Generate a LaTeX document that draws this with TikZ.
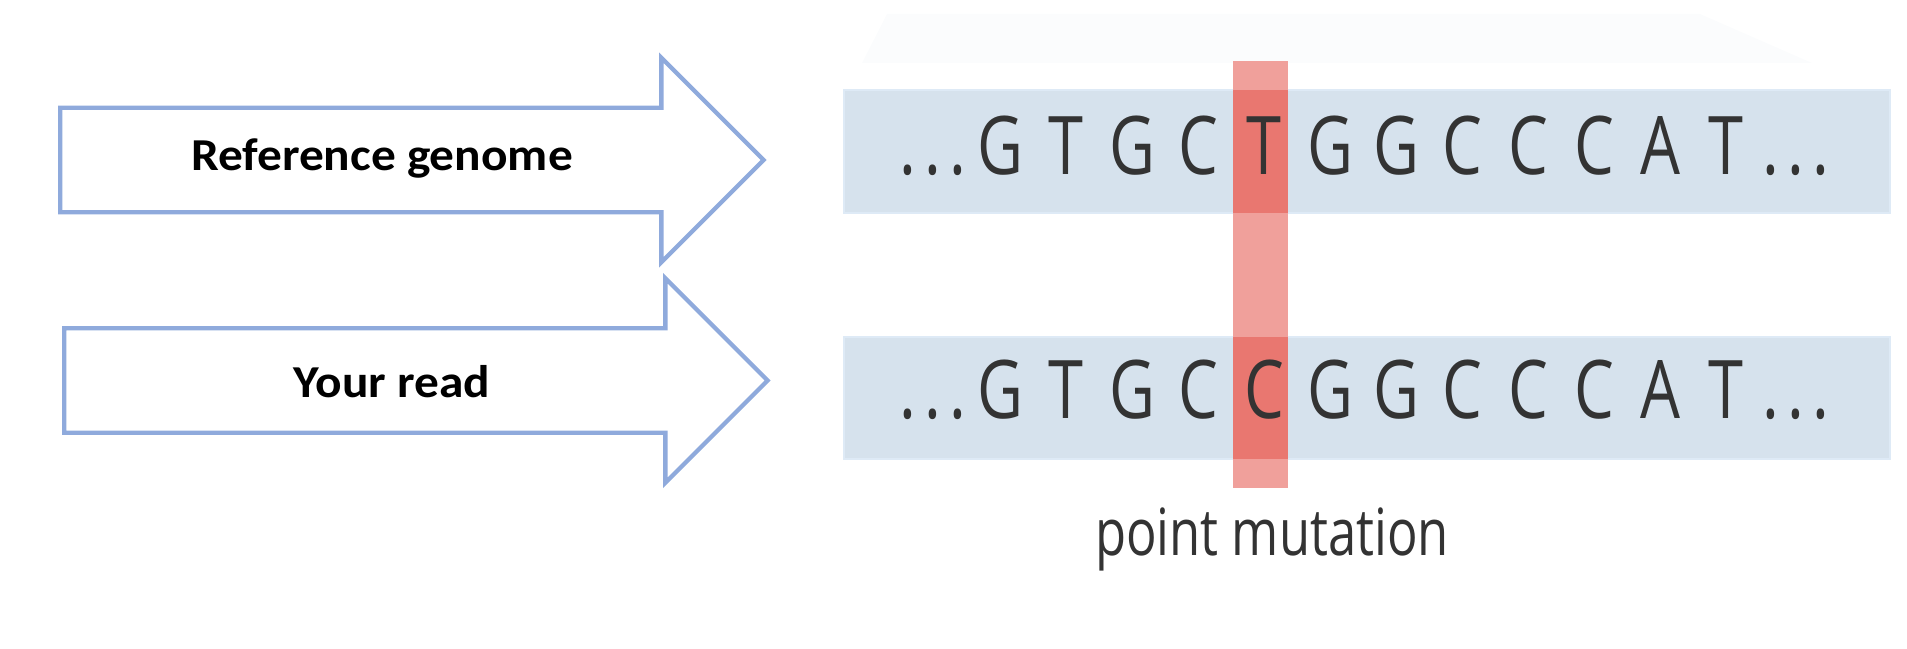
\documentclass[tikz,border=0pt]{standalone}
\usepackage{fontspec}
\setmainfont{Carlito}
\newfontfamily\seqfont{Open Sans}
\usetikzlibrary{shapes.arrows}

\definecolor{arrowblue}{RGB}{143,170,220}
\definecolor{bandblue}{RGB}{214,226,237}
\definecolor{bandedge}{RGB}{222,234,246}
\definecolor{mutlight}{RGB}{240,160,155}
\definecolor{mutdark}{RGB}{233,119,112}
\definecolor{seqgray}{RGB}{51,51,51}
\definecolor{haze}{RGB}{251,252,253}

\tikzset{
  bigarrow/.style={single arrow, draw=arrowblue, line width=1.25pt, fill=white,
    minimum height=7.03cm, single arrow head extend=0.5cm,
    inner xsep=0pt, inner ysep=0.5cm, anchor=tail},
  arrowlabel/.style={font=\bfseries\fontsize{13}{15}\selectfont, anchor=base,
    xscale=1.08, inner sep=0pt},
  nuc/.style={font=\seqfont\fontsize{23}{27}\selectfont, text=seqgray, anchor=base,
    xscale=0.78, inner sep=0pt},
  band/.style={fill=bandblue, draw=bandedge, line width=0.5pt},
}

\begin{document}
\begin{tikzpicture}[x=0.01cm, y=-0.01cm]
  \useasboundingbox (0,0) rectangle (1907,649);

  % arrows on the left
  \node[bigarrow] (refarrow) at (58,160) {};
  \node[bigarrow] (readarrow) at (62,380.5) {};
  \node[arrowlabel] (reflabel) at (382,171) {Reference genome};
  \node[arrowlabel] (readlabel) at (392,397) {Your read};

  % faint strip above the bands
  \fill[haze] (887,14) -- (1700,14) -- (1812,63) -- (862,63) -- cycle;

  % sequence bands
  \draw[band] (844,90) rectangle (1890,213);
  \draw[band] (844,337) rectangle (1890,459);

  % mutated column
  \fill[mutlight] (1233,61) rectangle (1288,488);
  \fill[mutdark] (1233,90) rectangle (1288,213);
  \fill[mutdark] (1233,337) rectangle (1288,459);

  % reference sequence
  \node[nuc] (refl) at (933,175) {.\kern3pt.\kern3pt.};
  \foreach \b [count=\i] in {G,T,G,C,T,G,G,C,C,C,A,T}
    \node[nuc] (ref\i) at (934+66*\i,175) {\b};
  \node[nuc] (refr) at (1796,175) {.\kern3pt.\kern3pt.};

  % read sequence
  \node[nuc] (readl) at (933,419) {.\kern3pt.\kern3pt.};
  \foreach \b [count=\i] in {G,T,G,C,C,G,G,C,C,C,A,T}
    \node[nuc] (read\i) at (934+66*\i,419) {\b};
  \node[nuc] (readr) at (1796,419) {.\kern3pt.\kern3pt.};

  \node[nuc, font=\seqfont\fontsize{18.5}{22}\selectfont] (mutlabel) at (1272,555) {point mutation};
\end{tikzpicture}
\end{document}
